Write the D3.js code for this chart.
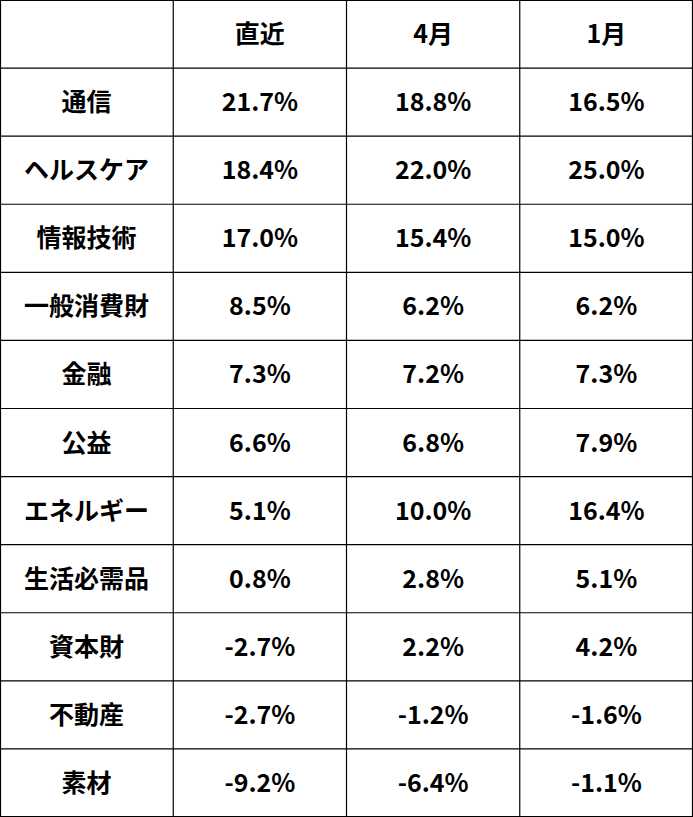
<!DOCTYPE html>
<html><head><meta charset="utf-8">
<script src="https://cdn.jsdelivr.net/npm/d3@7"></script>
<style>body{margin:0;background:#fff}</style></head>
<body><svg id="c" width="693" height="817"></svg>
<script>
const headers = ["", "直近", "4月", "1月"];
const categories = ["通信","ヘルスケア","情報技術","一般消費財","金融","公益","エネルギー","生活必需品","資本財","不動産","素材"];
const recent = [21.7,18.4,17.0,8.5,7.3,6.6,5.1,0.8,-2.7,-2.7,-9.2];
const april = [18.8,22.0,15.4,6.2,7.2,6.8,10.0,2.8,2.2,-1.2,-6.4];
const january = [16.5,25.0,15.0,6.2,7.3,7.9,16.4,5.1,4.2,-1.6,-1.1];

const W=693,H=817;
const svg=d3.select("#c");
const x=d3.scaleBand().domain(d3.range(4)).range([0,W]);
const y=d3.scaleBand().domain(d3.range(12)).range([0,H]);
const rows=[headers].concat(categories.map((c,i)=>[c,recent[i].toFixed(1)+"%",april[i].toFixed(1)+"%",january[i].toFixed(1)+"%"]));
const g=svg.append("g");
rows.forEach((r,i)=>r.forEach((t,j)=>{
  g.append("text").attr("x",x(j)+x.bandwidth()/2).attr("y",y(i)+y.bandwidth()/2-2)
   .attr("text-anchor","middle").attr("dominant-baseline","central")
   .attr("font-family","'Noto Sans CJK JP','Noto Sans',sans-serif").attr("font-weight","bold")
   .attr("font-size",25).attr("fill","#000").text(t);
}));
const lines=svg.append("g").attr("stroke","#000").attr("stroke-width",1.2);
d3.range(13).forEach(i=>{const yy=i===12?H-0.5:(i===0?0.5:y(i));lines.append("line").attr("x1",0).attr("x2",W).attr("y1",yy).attr("y2",yy);});
d3.range(5).forEach(j=>{const xx=j===4?W-0.5:(j===0?0.5:x(j));lines.append("line").attr("y1",0).attr("y2",H).attr("x1",xx).attr("x2",xx);});
</script></body></html>
